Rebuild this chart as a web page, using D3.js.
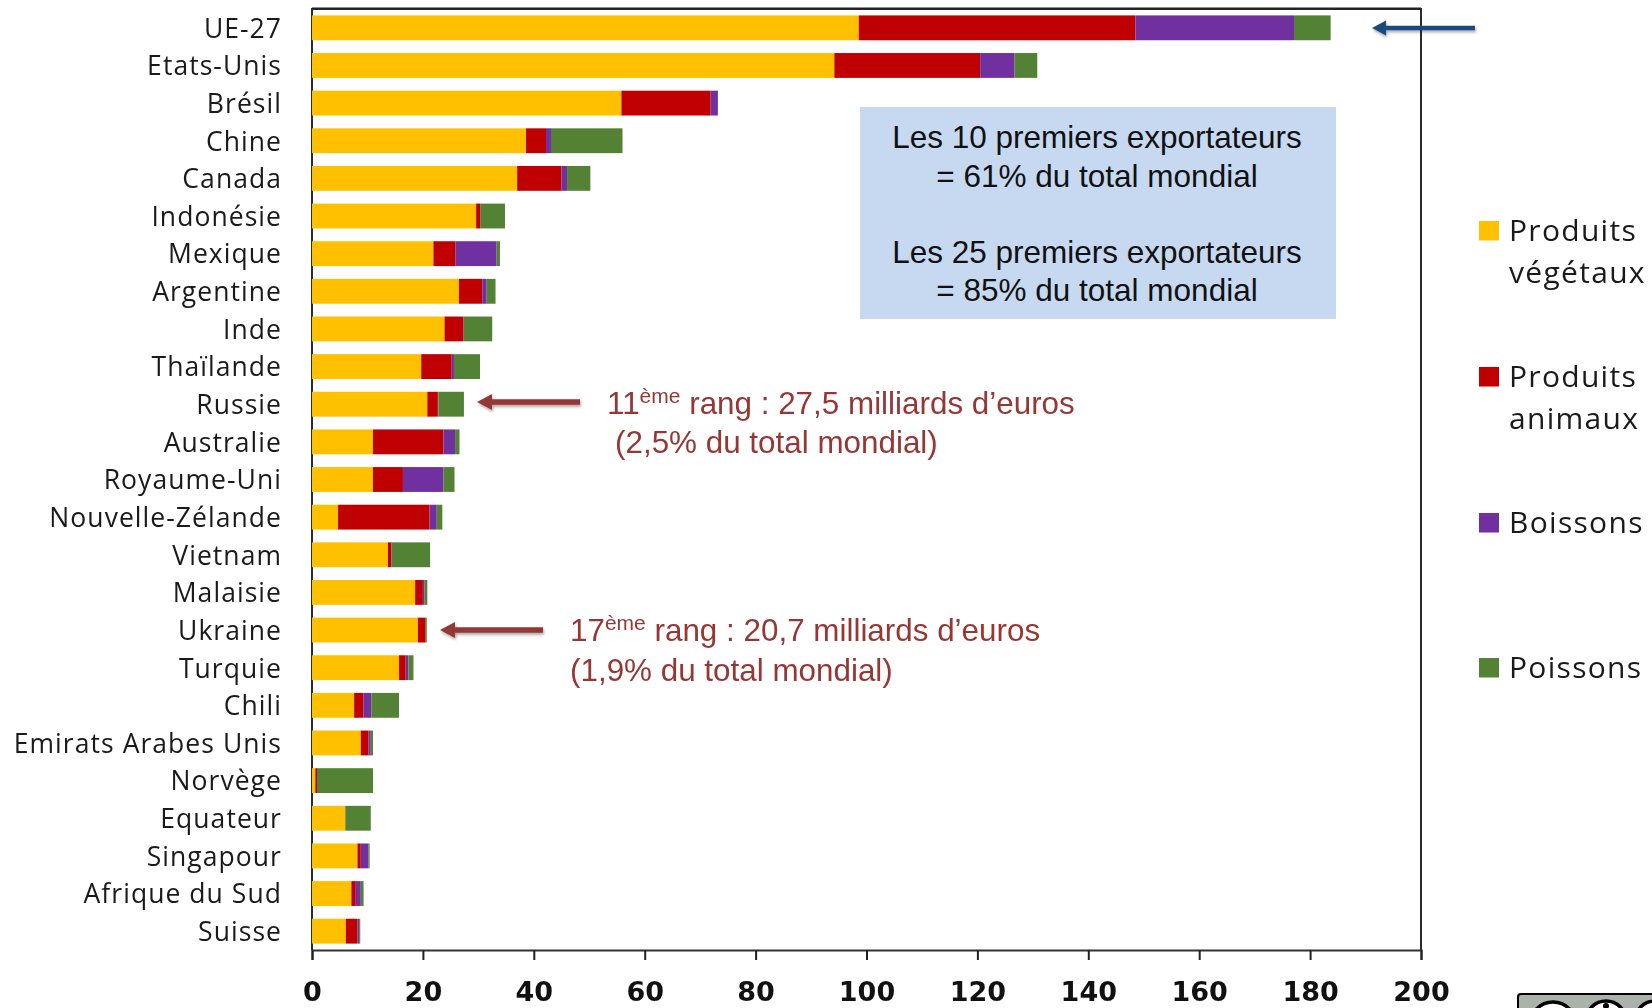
<!DOCTYPE html>
<html><head><meta charset="utf-8">
<script src="https://cdn.jsdelivr.net/npm/d3@7/dist/d3.min.js"></script>
<style>html,body{margin:0;padding:0;background:#fff;overflow:hidden}svg{display:block;filter:blur(.45px)}</style>
</head><body><svg id="c" width="1652" height="1008"></svg>
<script>
const categories=["UE-27","Etats-Unis","Brésil","Chine","Canada","Indonésie","Mexique","Argentine","Inde","Thaïlande","Russie","Australie","Royaume-Uni","Nouvelle-Zélande","Vietnam","Malaisie","Ukraine","Turquie","Chili","Emirats Arabes Unis","Norvège","Equateur","Singapour","Afrique du Sud","Suisse"];
const seriesNames=["Produits végétaux","Produits animaux","Boissons","Poissons"];
const vegetaux=[98.6,94.2,55.8,38.6,37.0,29.6,21.9,26.5,23.9,19.7,20.8,11.0,11.0,4.7,13.7,18.6,19.1,15.7,7.6,8.8,0.6,6.0,8.2,7.1,6.1];
const animaux=[49.9,26.3,16.1,3.6,8.0,0.8,4.0,4.2,3.4,5.5,1.9,12.7,5.4,16.5,0.6,1.4,1.4,1.2,1.7,1.4,0.3,0,0.6,0.8,2.1];
const boissons=[28.6,6.2,1.3,0.9,1.0,0,7.4,0.8,0.1,0.4,0.1,2.1,7.3,1.3,0.1,0.3,0,0.5,1.4,0.4,0,0,1.4,0.9,0.3];
const poissons=[6.6,4.1,0,12.9,4.2,4.4,0.6,1.6,5.1,4.7,4.6,0.8,2.0,1.0,6.9,0.5,0.2,0.9,5.0,0.4,10.1,4.6,0.2,0.5,0.2];
const xTicks=[0,20,40,60,80,100,120,140,160,180,200];
const colors=["#FFC000","#C00000","#7030A0","#548235"];

const svg=d3.select("#c");
const L=312,R=1421,T=9,B=950;
const x=d3.scaleLinear().domain([0,200]).range([L,R]);
const y=d3.scaleBand().domain(categories).range([T,B]).paddingInner(0.34).paddingOuter(0.17);
const rows=categories.map((c,i)=>({c,0:vegetaux[i],1:animaux[i],2:boissons[i],3:poissons[i]}));
const stack=d3.stack().keys([0,1,2,3])(rows);

const defs=svg.append("defs");
const sh=defs.append("filter").attr("id","sh").attr("x","-20%").attr("y","-200%").attr("width","140%").attr("height","500%");
sh.append("feDropShadow").attr("dx",1).attr("dy",2).attr("stdDeviation",1.5).attr("flood-color","#000").attr("flood-opacity",.35);

// frame
svg.append("path").attr("d",`M${L},${B}V${T}H${R}V${B}`).attr("fill","none").attr("stroke","#2b2b2b").attr("stroke-width",2);
svg.append("line").attr("x1",L).attr("x2",R).attr("y1",T-.5).attr("y2",T-.5).attr("stroke","#222").attr("stroke-width",2);

// bars
svg.append("g").selectAll("g").data(stack).join("g").attr("fill",(d,i)=>colors[i])
  .selectAll("rect").data(d=>d).join("rect")
  .attr("x",d=>x(d[0])).attr("width",d=>x(d[1])-x(d[0]))
  .attr("y",d=>y(d.data.c)).attr("height",y.bandwidth());

// axes
const ax=svg.append("g").attr("transform",`translate(0,${B})`)
  .call(d3.axisBottom(x).tickValues(xTicks).tickSize(10).tickPadding(22));
ax.selectAll("path").attr("stroke","#333").attr("stroke-width",2);
ax.selectAll("line").attr("stroke","#222").attr("stroke-width",2);
ax.selectAll("text").attr("font-family","'DejaVu Sans',sans-serif").attr("font-weight",700).attr("font-size",27).attr("fill","#111");

const ay=svg.append("g").attr("transform",`translate(${L},0)`)
  .call(d3.axisLeft(y).tickSize(0).tickPadding(30));
ay.select("path").remove();
ay.selectAll("text").attr("font-family","'Open Sans',sans-serif").attr("font-size",26.5).attr("letter-spacing","1.05").attr("fill","#1a1a1a")
  .attr("dy",".37em");

// info box
svg.append("rect").attr("x",860).attr("y",107).attr("width",476).attr("height",212).attr("fill","#C6D9F1");
const box=svg.append("g").attr("font-family","'Liberation Sans',Arial,sans-serif").attr("font-size",31.5).attr("fill","#111").attr("text-anchor","middle");
[["Les 10 premiers exportateurs",137],["= 61% du total mondial",176],["Les 25 premiers exportateurs",252],["= 85% du total mondial",290]]
 .forEach(([t,yy])=>box.append("text").attr("x",1097).attr("y",yy).attr("dy",".35em").text(t));

// arrows
function arrow(x1,x2,yy,col,w,hl,hh){
  svg.append("path").attr("filter","url(#sh)").attr("fill",col).attr("stroke","none")
   .attr("d",`M${x1},${yy-w/2}H${x2+hl}V${yy-hh}L${x2},${yy}L${x2+hl},${yy+hh}V${yy+w/2}H${x1}Z`);
}
arrow(1475,1372,28,"#1F497D",4.5,14,7.5);
arrow(580,477,402,"#953735",5.5,15,8);
arrow(543,440,630,"#953735",5.5,15,8);

// red annotations
const red="#953735";
const ann=svg.append("g").attr("font-family","'Liberation Sans',Arial,sans-serif").attr("font-size",31.4).attr("fill",red);
function rank(px,py,a,b){
  const t=ann.append("text").attr("x",px).attr("y",py).attr("dy",".35em");
  t.append("tspan").text(a);
  t.append("tspan").attr("font-size",21).attr("dy",-11).text("ème");
  t.append("tspan").attr("dy",11).text(b);
}
rank(607,403,"11"," rang : 27,5 milliards d’euros");
ann.append("text").attr("x",615).attr("y",442).attr("dy",".35em").text("(2,5% du total mondial)");
rank(570,630,"17"," rang : 20,7 milliards d’euros");
ann.append("text").attr("x",570).attr("y",670).attr("dy",".35em").text("(1,9% du total mondial)");

// legend
const legendRows=[[221,["Produits","végétaux"]],[367,["Produits","animaux"]],[513,["Boissons"]],[658,["Poissons"]]];
const leg=svg.append("g");
legendRows.forEach(([yy,lines],i)=>{
  leg.append("rect").attr("x",1479).attr("y",yy).attr("width",20).attr("height",19.5).attr("fill",colors[i]);
  lines.forEach((s,j)=>leg.append("text").attr("x",1509).attr("y",yy+9+j*42).attr("dy",".36em")
    .attr("font-family","'Open Sans',sans-serif").attr("font-size",30).attr("letter-spacing","1.3").attr("fill","#1a1a1a").text(s));
});

// licence badge
const bd=svg.append("g");
bd.append("rect").attr("x",1518).attr("y",994).attr("width",150).attr("height",40).attr("rx",3).attr("fill","#AAB2AB").attr("stroke","#000").attr("stroke-width",2);
[[1553,1025,23],[1606,1021,20],[1655,1021,20]].forEach(([cx,cy,r])=>bd.append("circle").attr("cx",cx).attr("cy",cy).attr("r",r).attr("fill","#fff").attr("stroke","#000").attr("stroke-width",3.5));
bd.append("circle").attr("cx",1606).attr("cy",1006).attr("r",3).attr("fill","#000");
</script></body></html>
